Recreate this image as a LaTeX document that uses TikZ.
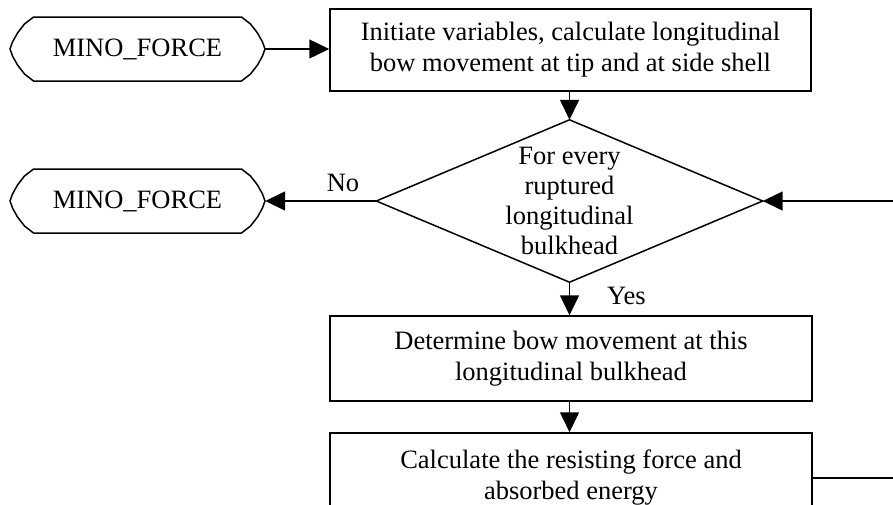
\documentclass[tikz,border=0pt]{standalone}
\usepackage{fontspec}
\setmainfont{Liberation Serif}
\usetikzlibrary{arrows.meta}

\tikzset{
  every picture/.style={x=1pt,y=-1pt},
  flowline/.style={line width=1.5pt,-{Triangle[length=20pt,width=19pt]}},
  plainline/.style={line width=1.5pt},
  textbox/.style={draw,line width=1.5pt,inner sep=0pt,align=center,
    font=\fontsize{26.5}{31}\selectfont},
  termtext/.style={inner sep=0pt,minimum width=255pt,minimum height=64pt,
    font=\fontsize{26.5}{31}\selectfont},
  decision/.style={inner sep=0pt,minimum width=386pt,minimum height=162pt,
    align=center,font=\fontsize{26.5}{30}\selectfont},
  lbl/.style={inner sep=0pt,font=\fontsize{26.5}{31}\selectfont}
}

% outline of a terminal: straight top and bottom, faceted round ends
\newcommand{\termoutline}[1]{%
  \draw[plainline,line join=round,shift={(#1.center)}] plot coordinates {
    (-104,-32) (104,-32) (113,-25) (120,-16) (125,-7) (127.5,0) (125,7)
    (120,16) (113,25) (104,32) (-104,32) (-113,25) (-120,16) (-125,7)
    (-127.5,0) (-125,-7) (-120,-16) (-113,-25) (-104,-32)};}

\begin{document}
\begin{tikzpicture}
\useasboundingbox (0,0) rectangle (893,504);
\clip (0,0) rectangle (893,504);

% start terminal and first step
\node[termtext] (start) at (137.5,49) {MINO\_FORCE};
\termoutline{start}
\node[textbox,minimum width=481pt,minimum height=82pt] (init) at (570.5,50)
  {Initiate variables, calculate longitudinal\\bow movement at tip and at side shell};

% loop decision
\node[decision] (loop) at (569.5,201) {For every\\ruptured\\longitudinal\\bulkhead};
\draw[plainline] (loop.north) -- (loop.east) -- (loop.south) -- (loop.west) -- cycle;

% end terminal
\node[termtext] (stop) at (137.5,201) {MINO\_FORCE};
\termoutline{stop}

% loop body
\node[textbox,minimum width=482pt,minimum height=85pt] (move) at (571,358.5)
  {Determine bow movement at this\\longitudinal bulkhead};
\node[textbox,minimum width=482pt,minimum height=90pt] (force) at (571,478)
  {Calculate the resisting force and\\absorbed energy};

% connectors
\draw[flowline] (start.east) -- (init.west |- start.east);
\draw[flowline] (init.south -| loop.north) -- (loop.north);
\draw[flowline] (loop.west) -- node[lbl,above=8pt,pos=0.3] (no) {No} (stop.east);
\draw[flowline] (loop.south) -- (move.north -| loop.south);
\node[lbl,anchor=west] (yes) at (607,296) {Yes};
\draw[flowline] (move.south -| loop.south) -- (force.north -| loop.south);
\draw[flowline] (force.east) -- ++(110,0) |- (loop.east);
\end{tikzpicture}
\end{document}
